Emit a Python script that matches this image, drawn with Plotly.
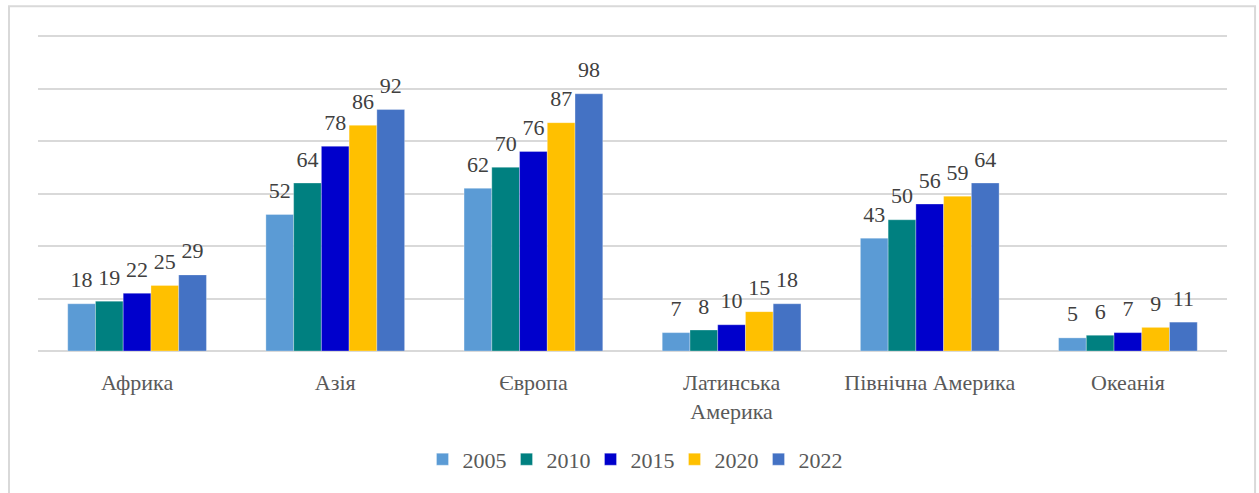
import plotly.graph_objects as go

categories = ["Африка", "Азія", "Європа", "Латинська<br>Америка", "Північна Америка", "Океанія"]
years = ["2005", "2010", "2015", "2020", "2022"]
v2005 = [18, 52, 62, 7, 43, 5]
v2010 = [19, 64, 70, 8, 50, 6]
v2015 = [22, 78, 76, 10, 56, 7]
v2020 = [25, 86, 87, 15, 59, 9]
v2022 = [29, 92, 98, 18, 64, 11]
series = [v2005, v2010, v2015, v2020, v2022]
colors = ["#5B9BD5", "#008080", "#0000CC", "#FFC000", "#4472C4"]

FONT = "Liberation Serif"

fig = go.Figure()
for name, vals, col in zip(years, series, colors):
    fig.add_trace(go.Bar(
        x=categories, y=vals, name=name,
        marker=dict(color=col, line=dict(color="rgba(255,255,255,0.6)", width=0.5)),
    ))
for name, vals in zip(years, series):
    fig.add_trace(go.Scatter(
        x=categories, y=vals, name=name, showlegend=False, orientation="v",
        mode="markers+text", marker=dict(size=16, color="rgba(0,0,0,0)"),
        text=[str(v) for v in vals], textposition="top center",
        textfont=dict(family=FONT, size=22, color="#404040"),
        cliponaxis=False, hoverinfo="skip",
    ))

fig.update_layout(
    width=1259, height=493,
    margin=dict(l=38, r=32, t=35, b=140),
    paper_bgcolor="white", plot_bgcolor="white",
    barmode="group", bargap=0.30, bargroupgap=0,
    scattermode="group", scattergap=0.30,
    font=dict(family=FONT, size=22, color="#595959"),
    showlegend=True,
    legend=dict(orientation="h", x=0.5, xanchor="center", y=-0.343, yanchor="middle",
                font=dict(family=FONT, size=22, color="#595959"),
                itemwidth=30, entrywidth=39, entrywidthmode="pixels", traceorder="normal"),
    xaxis=dict(showgrid=False, showline=False, ticks="outside", ticklen=12, automargin=False,
               tickcolor="rgba(0,0,0,0)", tickfont=dict(family=FONT, size=22, color="#595959")),
    yaxis=dict(range=[0, 120.4], tickvals=[0, 20, 40, 60, 80, 100, 120], showticklabels=False,
               showgrid=True, automargin=False,
               gridcolor="#D9D9D9", gridwidth=1.5, zeroline=True, zerolinecolor="#D9D9D9",
               zerolinewidth=1.5, showline=False),
    shapes=[dict(type="rect", xref="paper", yref="paper",
                 x0=-0.0244, x1=1.0236, y0=-0.46, y1=1.0912,
                 line=dict(color="#D9D9D9", width=2), fillcolor="rgba(0,0,0,0)", layer="below")],
)

fig.write_html("out.html", config={"displayModeBar": False},
               post_script="document.body.style.margin='0';document.body.style.overflow='hidden';")
